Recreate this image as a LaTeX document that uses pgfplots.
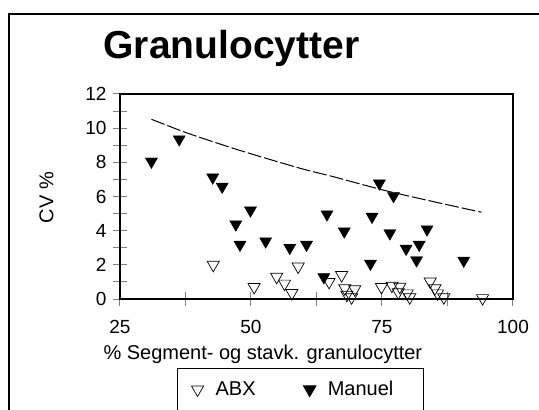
\documentclass[border=0pt]{standalone}
\usepackage{fontspec}
\setmainfont{Liberation Sans}
\usepackage{pgfplots}
\pgfplotsset{compat=1.18}
\begin{document}
\begin{tikzpicture}
\useasboundingbox (0pt,0pt) rectangle (539pt,410pt);
% chart frame (runs off the page right and bottom)
\draw[line width=1.2pt] (9pt,-30pt) rectangle (580pt,396pt);
\begin{axis}[
  at={(120pt,111pt)}, anchor=south west,
  scale only axis, width=393pt, height=205pt,
  xmin=25, xmax=100, ymin=0, ymax=12,
  xtick={25,50,75,100}, ytick={0,2,...,12},
  minor x tick num=1, minor y tick num=1,
  xtick pos=left, ytick pos=left,
  tick align=center, major tick length=14pt, minor tick length=14pt,
  every tick/.style={gray, line width=1pt},
  axis line style={line width=1.3pt},
  tick label style={font=\fontsize{19}{21}\selectfont},
  /pgf/number format/assume math mode=true,
  xticklabel style={yshift=-11pt},
  yticklabel style={xshift=-3pt},
  clip=false,
  legend columns=2,
  legend style={at={(0.145,-0.3366)}, anchor=north west, draw=black,
    line width=1pt, font=\fontsize{20}{22}\selectfont,
    inner xsep=14pt, inner ysep=11pt,
    /tikz/every odd column/.append style={column sep=10pt},
    /tikz/every even column/.append style={column sep=46pt}},
  legend cell align=left,
]
\addplot[black, line width=1pt, dash pattern=on 14pt off 3pt, smooth, forget plot] coordinates {
  (31,10.52) (37.6,9.74) (45,8.98) (50.1,8.49) (59.4,7.65)
  (65.7,7.16) (75.2,6.38) (84.8,5.70) (94,5.08)
};
\addplot[only marks, mark=triangle, mark size=7pt,
  mark options={rotate=180, draw=black, fill=white, line width=0.7pt}] coordinates {
  (42.8,2.0) (50.6,0.7) (54.9,1.3) (56.4,0.9) (57.8,0.35) (59.0,1.9)
  (64.9,1.0) (67.3,1.4) (67.9,0.63) (68.3,0.25) (69.2,0.1) (69.8,0.57)
  (74.9,0.7) (76.9,0.78) (78.4,0.72) (78.1,0.4) (79.8,0.33) (80.3,0.1)
  (84.2,1.02) (85.1,0.63) (85.6,0.33) (86.8,0.1) (94.2,0.05)
};
\addlegendentry{ABX}
\addplot[only marks, mark=triangle*, mark size=7pt,
  mark options={rotate=180, draw=black, fill=black}] coordinates {
  (31.0,8.05) (36.3,9.35) (42.7,7.12) (44.5,6.58) (47.1,4.37) (47.9,3.18)
  (49.9,5.19) (52.8,3.38) (57.4,3.0) (60.6,3.18) (63.9,1.28) (64.5,4.96)
  (67.8,3.96) (72.8,2.07) (73.1,4.82) (74.5,6.77) (76.5,3.85) (77.2,6.03)
  (79.6,2.95) (81.6,2.27) (82.1,3.18) (83.6,4.08) (90.6,2.25)
};
\addlegendentry{\makebox[80pt][l]{Manuel}}
\end{axis}
\node[anchor=base west, font=\fontsize{39}{41}\selectfont\bfseries] at (100pt,351pt) {Granulocytter};
\node[anchor=base west, font=\fontsize{20}{22}\selectfont] at (100pt,50pt) {\% Segment- og stavk. granulocytter};
\node[rotate=90, font=\fontsize{20}{22}\selectfont] at (46.5pt,212.5pt) {CV \%};
\end{tikzpicture}
\end{document}
